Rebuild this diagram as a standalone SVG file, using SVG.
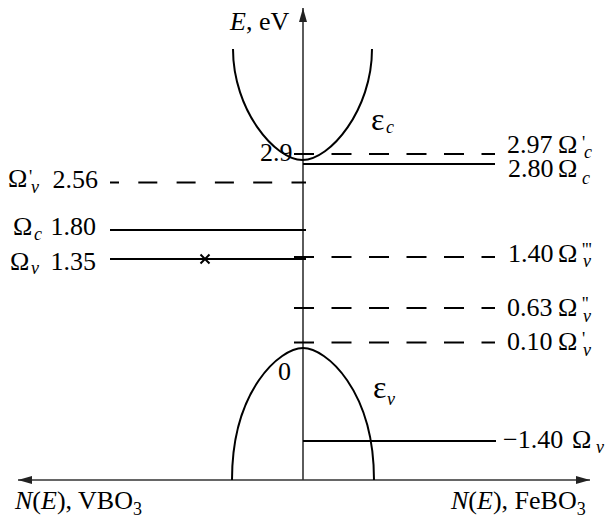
<svg xmlns="http://www.w3.org/2000/svg" width="605" height="519" viewBox="0 0 605 519">
<defs>
<style>
.ax{stroke:#333;stroke-width:1.6;fill:none}
.lv{stroke:#000;stroke-width:2;fill:none}
.dr{stroke-dasharray:20 17.5}
.dl{stroke-dasharray:19 19.3;stroke-dashoffset:4.5}
.band{stroke:#000;stroke-width:2;fill:none}
text{font-family:"Liberation Serif","Times New Roman",serif;font-size:26px;fill:#000}
.i{font-style:italic}
.s{font-size:18px;font-style:italic}
.p{font-size:18px}
.eps{font-size:32px}
</style>
<marker id="ah" viewBox="0 0 14 8" refX="14" refY="4" markerWidth="14" markerHeight="8" markerUnits="userSpaceOnUse" orient="auto-start-reverse">
<path d="M0,0 L14,4 L0,8 Z" fill="#222"/>
</marker>
</defs>
<rect width="605" height="519" fill="#fff"/>

<g id="axes">
<line class="ax" x1="303" y1="480" x2="303" y2="8" marker-end="url(#ah)"/>
<line class="ax" x1="18" y1="480" x2="590" y2="480" marker-start="url(#ah)" marker-end="url(#ah)"/>
</g>

<g id="bands">
<path id="conduction-band" class="band" d="M233,49 C233,110 275,160 302.5,160 C330,160 372,110 372,49"/>
<path id="valence-band" class="band" d="M232,480 C232,390 280,348 303,348 C326,348 374,390 374,480"/>
</g>

<g id="connectors">
<line class="lv dl" x1="306" y1="182.5" x2="110" y2="182.5"/>
<line class="lv" x1="110" y1="230" x2="306" y2="230"/>
<line class="lv" x1="110" y1="259" x2="306" y2="259"/>
<path class="lv" d="M200.5,254.5 L209.5,263.5 M209.5,254.5 L200.5,263.5" stroke-width="1.5"/>
<line class="lv dr" x1="294" y1="154" x2="495" y2="154"/>
<line class="lv" x1="303" y1="164" x2="495" y2="164"/>
<line class="lv dr" x1="294" y1="257" x2="495" y2="257"/>
<line class="lv dr" x1="294" y1="308" x2="495" y2="308"/>
<line class="lv dr" x1="294" y1="342.5" x2="495" y2="342.5"/>
<line class="lv" x1="303" y1="441" x2="496" y2="441"/>
</g>

<g id="axis-labels">
<text x="230" y="30"><tspan class="i">E</tspan>, eV</text>
<text x="260" y="161">2.9</text>
<text x="278" y="380">0</text>
<text x="15" y="509"><tspan class="i">N</tspan>(<tspan class="i">E</tspan>), VBO<tspan class="p" dy="6">3</tspan></text>
<text x="451" y="509"><tspan class="i">N</tspan>(<tspan class="i">E</tspan>), FeBO<tspan class="p" dy="6">3</tspan></text>
</g>

<g id="band-labels">
<text x="371" y="130"><tspan class="eps">ε</tspan><tspan class="s" x="386" y="133">c</tspan></text>
<text x="373" y="398"><tspan class="eps">ε</tspan><tspan class="s" x="387" y="405">v</tspan></text>
</g>

<g id="left-labels">
<g id="lbl-Ov1"><text x="8" y="187">Ω<tspan class="p" x="29" y="183">'</tspan><tspan class="s" x="31" y="193">v</tspan></text><text x="98" y="188" text-anchor="end">2.56</text></g>
<g id="lbl-Oc"><text x="13" y="235">Ω<tspan class="s" x="34" y="240">c</tspan></text><text x="96" y="235" text-anchor="end">1.80</text></g>
<g id="lbl-Ov"><text x="10" y="270">Ω<tspan class="s" x="31" y="274">v</tspan></text><text x="96" y="270" text-anchor="end">1.35</text></g>
</g>

<g id="right-labels">
<g id="lbl-297"><text x="507" y="153">2.97</text><text x="558" y="153">Ω<tspan class="p" x="582" y="149">'</tspan><tspan class="s" x="584" y="158">c</tspan></text></g>
<g id="lbl-280"><text x="508" y="177">2.80</text><text x="558" y="177">Ω<tspan class="s" x="582" y="184">c</tspan></text></g>
<g id="lbl-140"><text x="508" y="262">1.40</text><text x="558" y="262">Ω<tspan class="p" x="582" y="256">'''</tspan><tspan class="s" x="583" y="267">v</tspan></text></g>
<g id="lbl-063"><text x="507" y="316">0.63</text><text x="558" y="316">Ω<tspan class="p" x="582" y="310">''</tspan><tspan class="s" x="583" y="322">v</tspan></text></g>
<g id="lbl-010"><text x="507" y="350">0.10</text><text x="558" y="350">Ω<tspan class="p" x="582" y="345">'</tspan><tspan class="s" x="583" y="356">v</tspan></text></g>
<g id="lbl-m140"><text x="503" y="448">−1.40</text><text x="572" y="448">Ω<tspan class="s" x="596" y="453">v</tspan></text></g>
</g>
</svg>
